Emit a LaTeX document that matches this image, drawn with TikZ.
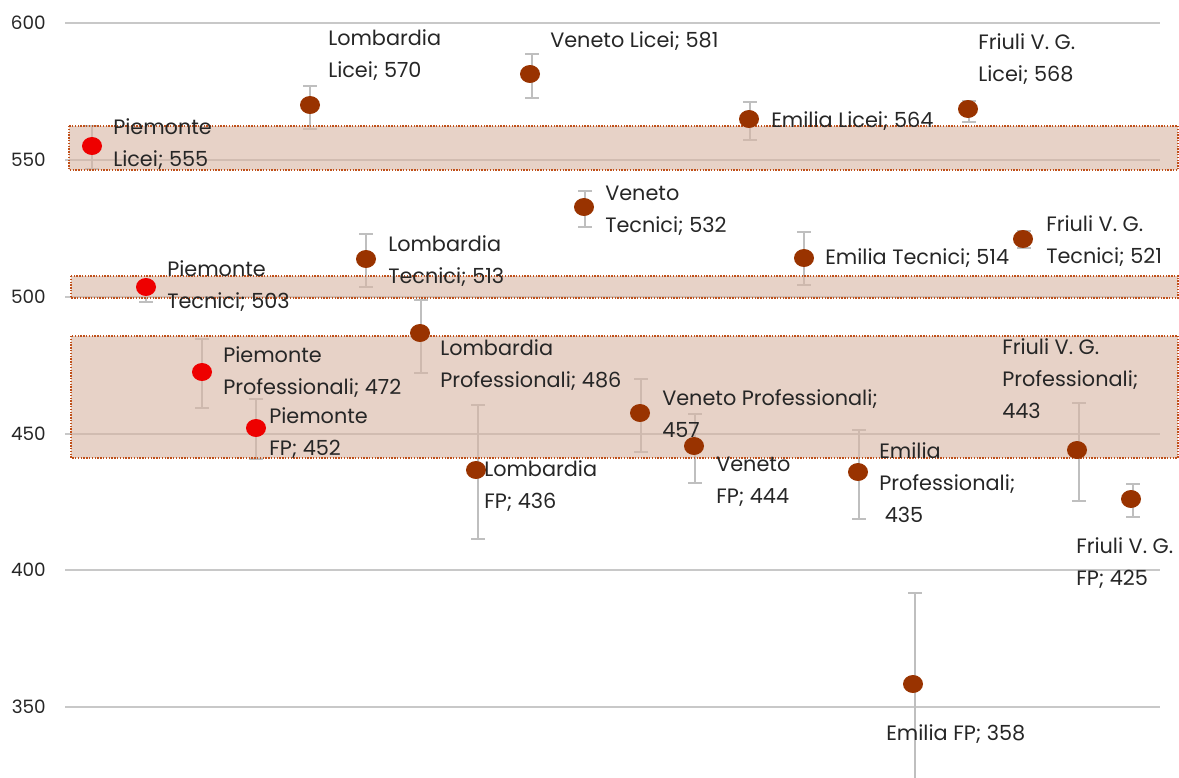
\documentclass[tikz,border=0pt]{standalone}
\usepackage{fontspec}
\setmainfont{Poppins}
\usetikzlibrary{shapes.geometric}
\definecolor{gridgray}{HTML}{C8C8C8}
\definecolor{bargray}{HTML}{BFBFBF}
\definecolor{piered}{HTML}{EE0000}
\definecolor{rust}{HTML}{993300}
\definecolor{bandfill}{HTML}{D8B6A4}
\definecolor{banddot}{HTML}{C0501A}
\definecolor{ink}{HTML}{262626}
\newcommand\errbar[3]{%
  \draw[ebar] (#1,#2) -- (#1,#3);
  \draw[ebar] ({#1-7},#2) -- ({#1+7},#2);
  \draw[ebar] ({#1-7},#3) -- ({#1+7},#3);}
\tikzset{
  grid line/.style={draw=gridgray, line width=1.5pt},
  ebar/.style={draw=bargray, line width=1.4pt},
  band/.style={fill=bandfill, fill opacity=0.62, draw=banddot, draw opacity=1,
    line width=1pt, dash pattern=on 1pt off 1.1pt},
  dot/.style={ellipse, minimum width=15pt, minimum height=13.5pt, inner sep=0pt},
  pie/.style={dot, fill=piered},
  reg/.style={dot, fill=rust},
  % anchored at the baseline of the last line
  lbl/.style={anchor=base west, inner sep=0pt, align=left, text=ink,
    font=\fontsize{15.6}{24}\selectfont},
  tick/.style={anchor=east, inner sep=0pt, text=ink,
    font=\fontsize{13.8}{16}\selectfont},
}
\begin{document}
\begin{tikzpicture}[x=0.75pt, y=-0.75pt]
\useasboundingbox (0,0) rectangle (1179,778);
\clip (0,0) rectangle (1179,778);
% horizontal grid and value scale
\foreach \v/\yy in {600/23, 550/160, 500/297, 450/434, 400/570, 350/707} {
  \draw[grid line] (65,\yy) -- (1160,\yy);
  \node[tick] (t\v) at (46,\yy) {\v};
}
% confidence intervals
\errbar{92}{126}{169}
\errbar{146}{283}{302}
\errbar{202}{339}{408}
\errbar{256}{399}{459}
\errbar{310}{86}{129}
\errbar{366}{234}{287}
\errbar{421}{300}{373}
\errbar{478}{405}{539}
\errbar{532}{54}{98}
\errbar{585}{191}{227}
\errbar{641}{379}{452}
\errbar{695}{414}{483}
\errbar{750}{102}{140}
\errbar{804}{232}{285}
\errbar{859}{430}{519}
\errbar{915}{593}{790}
\errbar{969}{101}{122}
\errbar{1024}{231}{248}
\errbar{1079}{403}{501}
\errbar{1133}{484}{517}
% national reference bands
\path[band] (69,126) rectangle (1178,170);
\path[band] (71,276) rectangle (1178,298);
\path[band] (71,336) rectangle (1178,458);
% regional means
\node[pie] (pl) at (92,146) {};
\node[pie] (pt) at (146,287) {};
\node[pie] (pp) at (202,372) {};
\node[pie] (pf) at (256,428) {};
\node[reg] (ll) at (310,105) {};
\node[reg] (lt) at (366,259) {};
\node[reg] (lp) at (420,333) {};
\node[reg] (lf) at (476,470) {};
\node[reg] (vl) at (530,74) {};
\node[reg] (vt) at (584,207) {};
\node[reg] (vp) at (640,413) {};
\node[reg] (vf) at (694,446) {};
\node[reg] (el) at (749,119) {};
\node[reg] (et) at (804,258) {};
\node[reg] (ep) at (858,472) {};
\node[reg] (ef) at (913,684) {};
\node[reg] (fl) at (968,109) {};
\node[reg] (ft) at (1023,239) {};
\node[reg] (fp) at (1077,450) {};
\node[reg] (ff) at (1131,499) {};
% data labels
\node[lbl] (Lpl) at (113,166) {Piemonte\\Licei; 555};
\node[lbl] (Lpt) at (167,308) {Piemonte\\Tecnici; 503};
\node[lbl] (Lpp) at (223,394) {Piemonte\\Professionali; 472};
\node[lbl] (Lpf) at (269,455) {Piemonte\\FP; 452};
\node[lbl] (Lll) at (328,77) {Lombardia\\Licei; 570};
\node[lbl] (Llt) at (388,283) {Lombardia\\Tecnici; 513};
\node[lbl] (Llp) at (440,387) {Lombardia\\Professionali; 486};
\node[lbl] (Llf) at (484,508) {Lombardia\\FP; 436};
\node[lbl] (Lvl) at (550,47) {Veneto Licei; 581};
\node[lbl] (Lvt) at (605,232) {Veneto\\Tecnici; 532};
\node[lbl] (Lvp) at (662,437) {Veneto Professionali;\\457};
\node[lbl] (Lvf) at (716,503) {Veneto\\FP; 444};
\node[lbl] (Lel) at (771,127) {Emilia Licei; 564};
\node[lbl] (Let) at (825,264) {Emilia Tecnici; 514};
\node[lbl] (Lep) at (879,522) {Emilia\\Professionali;\\\ 435};
\node[lbl] (Lef) at (886,740) {Emilia FP; 358};
\node[lbl] (Lfl) at (978,81) {Friuli V. G.\\Licei; 568};
\node[lbl] (Lft) at (1046,263) {Friuli V. G.\\Tecnici; 521};
\node[lbl] (Lfp) at (1002,418) {Friuli V. G.\\Professionali;\\443};
\node[lbl] (Lff) at (1076,585) {Friuli V. G.\\FP; 425};
\end{tikzpicture}
\end{document}
